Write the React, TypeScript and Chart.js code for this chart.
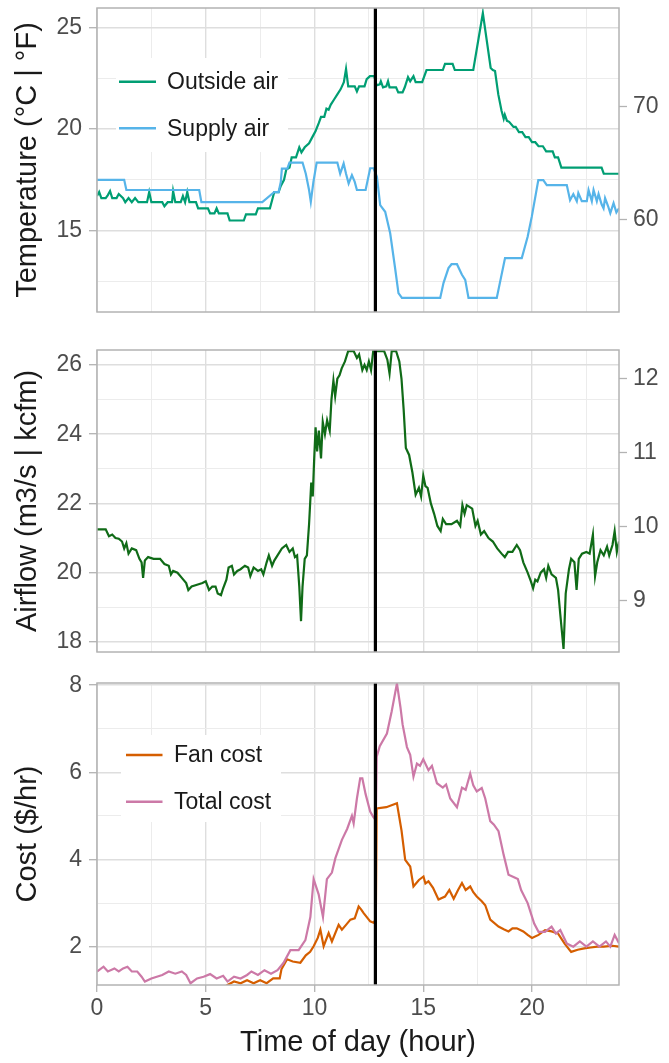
import React, { useEffect, useRef } from "react";
import { Chart, registerables } from "chart.js";

Chart.register(...registerables);

type Pt = [number, number];

// ---- shared x axis (hour of day) ----
const hourMajor = [0, 5, 10, 15, 20];
const hourMinor = [2.5, 7.5, 12.5, 17.5, 22.5];
const decisionHour = 12.8;

// ---- temperature panel ----
const tempMajorC = [15, 20, 25];
const tempMinorC = [12.5, 17.5, 22.5];
const tempTicksF = [60, 70];

const outsideAir: Pt[] = [
  [0, 16.7], [0.1, 16.9], [0.2, 16.6], [0.4, 16.6], [0.5, 16.75], [0.6, 16.95], [0.7, 16.6], [0.9, 16.6],
  [1.0, 16.8], [1.2, 16.6], [1.3, 16.4], [1.45, 16.6], [1.6, 16.4], [1.75, 16.6], [1.9, 16.4], [2.3, 16.4],
  [2.4, 16.9], [2.5, 16.4], [3.0, 16.4], [3.1, 16.2], [3.25, 16.4], [3.45, 16.4], [3.5, 16.95], [3.6, 16.4],
  [3.85, 16.4], [3.95, 16.7], [4.05, 16.4], [4.15, 16.9], [4.25, 16.4], [4.55, 16.4], [4.65, 16.1], [5.1, 16.1],
  [5.2, 15.85], [5.4, 15.85], [5.5, 16.1], [5.6, 15.85], [6.0, 15.85], [6.1, 15.5], [6.75, 15.5], [6.85, 15.8],
  [7.3, 15.8], [7.4, 16.1], [7.95, 16.1], [8.05, 16.5], [8.15, 16.9], [8.35, 16.9], [8.45, 17.2], [8.6, 17.5],
  [8.7, 18.0], [8.85, 18.1], [8.95, 18.6], [9.15, 18.6], [9.3, 19.1], [9.4, 18.85], [9.55, 19.1], [9.75, 19.3],
  [9.9, 19.6], [10.05, 19.9], [10.2, 20.3], [10.3, 20.6], [10.45, 20.6], [10.55, 21.0], [10.65, 20.95],
  [10.75, 21.2], [10.9, 21.45], [11.05, 21.7], [11.2, 21.95], [11.35, 22.3], [11.45, 22.95], [11.55, 22.1],
  [11.85, 22.1], [11.95, 21.85], [12.05, 22.1], [12.3, 22.1], [12.4, 22.45], [12.55, 22.6], [12.75, 22.6],
  [12.85, 22.15], [13.0, 22.2], [13.05, 22.35], [13.15, 22.05], [13.3, 22.1], [13.38, 22.35], [13.45, 22.05],
  [13.75, 22.05], [13.85, 21.8], [14.05, 21.8], [14.15, 22.05], [14.3, 22.55], [14.4, 22.35], [14.55, 22.6],
  [14.65, 22.3], [14.95, 22.3], [15.15, 22.9], [15.9, 22.9], [16.0, 23.2], [16.35, 23.2], [16.45, 22.9],
  [17.3, 22.9], [17.74, 25.7], [18.1, 23.0], [18.2, 22.9], [18.3, 22.85], [18.45, 21.7], [18.6, 20.9],
  [18.7, 20.5], [18.75, 20.7], [18.85, 20.4], [18.95, 20.35], [19.15, 20.1], [19.25, 20.1], [19.4, 19.85],
  [19.55, 19.85], [19.7, 19.6], [19.85, 19.6], [20.0, 19.35], [20.15, 19.35], [20.3, 19.15], [20.5, 19.15],
  [20.65, 18.9], [20.95, 18.9], [21.05, 18.6], [21.2, 18.6], [21.35, 18.1], [23.2, 18.1], [23.3, 17.8], [24.0, 17.8],
];

const supplyAir: Pt[] = [
  [0, 17.5], [1.25, 17.5], [1.35, 17.0], [4.7, 17.0], [4.8, 16.4], [7.6, 16.4], [8.15, 16.9], [8.35, 16.9],
  [8.45, 17.4], [8.5, 18.05], [8.75, 18.05], [8.85, 18.35], [9.45, 18.35], [9.6, 17.8], [9.75, 17.0],
  [9.83, 16.42], [9.95, 17.4], [10.1, 18.35], [11.05, 18.35], [11.18, 17.8], [11.34, 18.3], [11.45, 17.8],
  [11.57, 17.32], [11.72, 17.73], [11.85, 17.4], [11.95, 17.0], [12.35, 17.0], [12.56, 18.07], [12.72, 18.07],
  [12.87, 17.65], [13.02, 16.26], [13.25, 15.93], [13.48, 14.87], [13.7, 13.2], [13.86, 11.93], [14.02, 11.69],
  [15.78, 11.69], [15.93, 12.42], [16.16, 13.16], [16.3, 13.35], [16.55, 13.35], [16.78, 12.83], [16.93, 12.58],
  [17.08, 11.69], [18.38, 11.69], [18.76, 13.65], [19.53, 13.65], [19.8, 14.7], [19.99, 15.69], [20.29, 17.49],
  [20.52, 17.49], [20.68, 17.24], [21.6, 17.24], [21.75, 16.5], [21.9, 16.8], [22.06, 16.45], [22.13, 16.85],
  [22.29, 16.45], [22.52, 16.45], [22.6, 17.0], [22.75, 16.45], [22.83, 17.0], [22.98, 16.45], [23.06, 16.8],
  [23.2, 16.3], [23.29, 16.1], [23.36, 16.6], [23.5, 16.2], [23.6, 15.86], [23.75, 16.35], [23.88, 15.9], [24, 16.1],
];

// ---- airflow panel ----
const airflowMajor = [18, 20, 22, 24, 26];
const airflowMinor = [19, 21, 23, 25];
const airflowTicksKcfm = [9, 10, 11, 12];
const m3sPerKcfmTick = 2.133;

const airflow: Pt[] = [
  [0, 21.25], [0.4, 21.25], [0.55, 21.05], [0.7, 21.1], [0.85, 21.0], [1.0, 20.98], [1.15, 20.9], [1.25, 20.7],
  [1.35, 20.85], [1.45, 20.55], [1.6, 20.7], [1.8, 20.65], [1.95, 20.4], [2.05, 20.3], [2.12, 19.85], [2.2, 20.35],
  [2.35, 20.45], [2.6, 20.4], [2.9, 20.4], [3.1, 20.25], [3.3, 20.2], [3.4, 19.95], [3.5, 20.05], [3.7, 20.0],
  [3.9, 19.85], [4.1, 19.7], [4.2, 19.5], [4.35, 19.6], [4.6, 19.65], [4.85, 19.7], [5.0, 19.75], [5.15, 19.5],
  [5.3, 19.6], [5.45, 19.6], [5.55, 19.4], [5.7, 19.35], [5.8, 19.55], [5.95, 19.8], [6.05, 20.15], [6.2, 20.2],
  [6.3, 19.95], [6.45, 20.05], [6.6, 20.1], [6.8, 20.2], [6.95, 20.15], [7.05, 19.9], [7.2, 20.15], [7.4, 20.05],
  [7.55, 20.1], [7.65, 19.95], [7.8, 20.3], [7.9, 20.5], [8.05, 20.2], [8.15, 20.35], [8.3, 20.5], [8.5, 20.7],
  [8.7, 20.8], [8.85, 20.6], [9.0, 20.7], [9.1, 20.45], [9.2, 20.5], [9.3, 19.6], [9.38, 18.6], [9.45, 19.6],
  [9.55, 20.4], [9.65, 20.5], [9.75, 21.4], [9.85, 22.6], [9.92, 22.2], [9.98, 23.2], [10.05, 24.2], [10.12, 23.5],
  [10.2, 24.1], [10.3, 23.3], [10.38, 24.35], [10.48, 24.0], [10.58, 24.4], [10.7, 24.1], [10.78, 25.0],
  [10.87, 25.55], [10.95, 25.1], [11.05, 25.6], [11.15, 25.7], [11.25, 25.9], [11.4, 26.1], [11.55, 26.4],
  [11.8, 26.4], [11.95, 26.2], [12.05, 26.3], [12.2, 25.85], [12.3, 26.0], [12.4, 25.85], [12.5, 26.1],
  [12.6, 25.85], [12.7, 26.4], [13.2, 26.4], [13.35, 26.15], [13.45, 25.75], [13.55, 26.4], [13.75, 26.4],
  [13.9, 26.1], [14.0, 25.6], [14.1, 24.7], [14.2, 23.6], [14.35, 23.4], [14.5, 22.9], [14.65, 22.25],
  [14.8, 22.45], [14.9, 22.2], [15.0, 22.8], [15.1, 22.5], [15.2, 22.45], [15.35, 22.0], [15.5, 21.7],
  [15.65, 21.35], [15.8, 21.2], [15.9, 21.55], [16.05, 21.4], [16.3, 21.4], [16.55, 21.5], [16.7, 21.35],
  [16.8, 21.95], [16.9, 21.7], [17.0, 21.95], [17.25, 21.85], [17.4, 21.35], [17.5, 21.5], [17.65, 21.1],
  [17.8, 21.2], [18.0, 21.0], [18.2, 20.9], [18.4, 20.7], [18.6, 20.55], [18.75, 20.45], [18.9, 20.6],
  [19.1, 20.6], [19.3, 20.8], [19.45, 20.65], [19.6, 20.3], [19.8, 20.0], [19.95, 19.75], [20.05, 19.55],
  [20.15, 19.8], [20.25, 19.75], [20.4, 20.0], [20.55, 20.1], [20.65, 19.85], [20.75, 20.2], [20.9, 19.95],
  [21.1, 19.85], [21.2, 19.5], [21.3, 18.8], [21.45, 17.8], [21.55, 19.4], [21.7, 20.1], [21.8, 20.4],
  [21.95, 20.3], [22.05, 19.5], [22.15, 20.4], [22.3, 20.55], [22.5, 20.6], [22.65, 20.55], [22.8, 21.1],
  [22.9, 19.9], [23.0, 20.3], [23.15, 20.65], [23.3, 20.5], [23.45, 20.75], [23.55, 20.5], [23.7, 20.8],
  [23.8, 21.2], [23.9, 20.6], [24, 20.9],
];

// ---- cost panel ----
const costMajor = [2, 4, 6, 8];
const costMinor = [3, 5, 7];

const fanCost: Pt[] = [
  [5.8, 1.05], [6.0, 1.12], [6.3, 1.2], [6.6, 1.16], [6.9, 1.23], [7.2, 1.16], [7.5, 1.23], [7.8, 1.16],
  [8.1, 1.27], [8.4, 1.27], [8.48, 1.48], [8.74, 1.71], [9.0, 1.66], [9.35, 1.63], [9.6, 1.8], [9.8, 1.88],
  [9.96, 2.01], [10.15, 2.2], [10.27, 2.39], [10.42, 2.01], [10.65, 2.31], [10.8, 2.12], [11.11, 2.5],
  [11.26, 2.39], [11.45, 2.5], [11.65, 2.62], [11.85, 2.65], [12.03, 2.92], [12.15, 2.85], [12.26, 2.77],
  [12.56, 2.58], [12.71, 2.55], [12.82, 2.62], [12.86, 5.17], [13.3, 5.2], [13.79, 5.29], [14.0, 4.67],
  [14.17, 3.99], [14.4, 3.84], [14.55, 3.38], [14.8, 3.53], [15.01, 3.61], [15.1, 3.45], [15.24, 3.5],
  [15.45, 3.35], [15.7, 3.08], [16.0, 3.15], [16.2, 3.3], [16.4, 3.1], [16.6, 3.3], [16.78, 3.46], [16.95, 3.3],
  [17.16, 3.38], [17.3, 3.25], [17.46, 3.15], [17.69, 3.04], [17.85, 2.95], [18.08, 2.62], [18.46, 2.46],
  [18.7, 2.4], [18.92, 2.35], [19.1, 2.42], [19.3, 2.42], [19.6, 2.35], [19.8, 2.27], [20.0, 2.2], [20.3, 2.27],
  [20.6, 2.38], [20.9, 2.35], [21.2, 2.3], [21.5, 2.07], [21.8, 1.88], [22.1, 1.93], [22.4, 1.96], [22.7, 1.98],
  [23.0, 2.0], [23.3, 2.0], [23.7, 2.02], [24, 2.0],
];

const totalCost: Pt[] = [
  [0, 1.43], [0.3, 1.54], [0.5, 1.43], [0.8, 1.5], [1.0, 1.43], [1.2, 1.5], [1.4, 1.54], [1.6, 1.43],
  [1.85, 1.43], [2.05, 1.31], [2.2, 1.2], [2.5, 1.27], [3.0, 1.35], [3.3, 1.43], [3.6, 1.38], [3.9, 1.43],
  [4.1, 1.35], [4.3, 1.16], [4.6, 1.27], [4.9, 1.31], [5.2, 1.37], [5.5, 1.27], [5.8, 1.33], [6.0, 1.2],
  [6.3, 1.31], [6.6, 1.27], [6.9, 1.35], [7.1, 1.43], [7.4, 1.35], [7.7, 1.46], [8.0, 1.38], [8.3, 1.46],
  [8.58, 1.63], [8.89, 1.92], [9.27, 1.92], [9.58, 2.15], [9.81, 2.68], [9.96, 3.55], [10.19, 3.2],
  [10.39, 2.68], [10.57, 3.55], [10.8, 3.7], [10.96, 4.03], [11.26, 4.45], [11.5, 4.7], [11.72, 5.0],
  [11.8, 4.83], [11.95, 5.4], [12.1, 5.86], [12.2, 5.86], [12.35, 5.5], [12.56, 5.1], [12.7, 4.98],
  [12.82, 4.9], [12.86, 6.36], [13.0, 6.6], [13.33, 6.89], [13.55, 7.4], [13.79, 8.04], [13.95, 7.5],
  [14.05, 7.1], [14.25, 6.58], [14.4, 6.4], [14.55, 5.9], [14.71, 6.2], [14.85, 6.15], [15.0, 6.3],
  [15.24, 6.05], [15.4, 6.15], [15.63, 5.75], [15.9, 5.65], [16.05, 5.72], [16.24, 5.4], [16.55, 5.2],
  [16.78, 5.65], [16.95, 5.6], [17.16, 5.97], [17.3, 5.7], [17.46, 5.56], [17.69, 5.64], [17.85, 5.4],
  [18.08, 4.88], [18.25, 4.8], [18.46, 4.65], [18.7, 4.1], [18.92, 3.65], [19.15, 3.6], [19.35, 3.55],
  [19.5, 3.3], [19.8, 3.0], [20.1, 2.53], [20.3, 2.34], [20.6, 2.34], [20.9, 2.46], [21.1, 2.3], [21.3, 2.38],
  [21.6, 2.07], [21.9, 2.0], [22.2, 2.12], [22.5, 2.0], [22.8, 2.12], [23.1, 2.0], [23.4, 2.12], [23.6, 2.0],
  [23.8, 2.27], [24, 2.08],
];

// ---- styling ----
const FONT = '"Liberation Sans", Arial, Helvetica, sans-serif';
const TICK_COLOR = "#4d4d4d";
const TITLE_COLOR = "#1a1a1a";
const GRID_MAJOR = "#dedede";
const GRID_MINOR = "#ececec";
const BORDER = "#b3b3b3";
const CANVAS_W = 669;
const PLOT_LEFT = 97;
const RIGHT_AXIS_W = 50;

const colors = {
  outside: "#009E73",
  supply: "#56B4E9",
  airflow: "#106b17",
  fan: "#D55E00",
  total: "#CC79A7",
};

interface Series {
  label: string;
  color: string;
  data: Pt[];
}

interface LegendSpec {
  box: [number, number, number, number];
  lineX: [number, number];
  textX: number;
  rowsY: number[];
}

interface PanelSpec {
  top: number;
  height: number;
  plotTop: number;
  plotBottom: number;
  yMin: number;
  yMax: number;
  yMajor: number[];
  yMinor: number[];
  yTitle: string;
  right?: { values: number[]; labels: string[] };
  series: Series[];
  legend?: LegendSpec;
  showX: boolean;
}

const fToC = (f: number) => ((f - 32) * 5) / 9;

const panels: PanelSpec[] = [
  {
    top: 0,
    height: 330,
    plotTop: 8,
    plotBottom: 312,
    yMin: 11.0,
    yMax: 25.95,
    yMajor: tempMajorC,
    yMinor: tempMinorC,
    yTitle: "Temperature (°C | °F)",
    right: { values: tempTicksF.map(fToC), labels: tempTicksF.map(String) },
    series: [
      { label: "Outside air", color: colors.outside, data: outsideAir },
      { label: "Supply air", color: colors.supply, data: supplyAir },
    ],
    legend: { box: [116, 58, 172, 94], lineX: [119, 156], textX: 167, rowsY: [81.7, 128.3] },
    showX: false,
  },
  {
    top: 330,
    height: 335,
    plotTop: 20,
    plotBottom: 322,
    yMin: 17.71,
    yMax: 26.43,
    yMajor: airflowMajor,
    yMinor: airflowMinor,
    yTitle: "Airflow (m3/s | kcfm)",
    right: {
      values: airflowTicksKcfm.map((k) => k * m3sPerKcfmTick),
      labels: airflowTicksKcfm.map(String),
    },
    series: [{ label: "Airflow", color: colors.airflow, data: airflow }],
    showX: false,
  },
  {
    top: 665,
    height: 398,
    plotTop: 18,
    plotBottom: 320,
    yMin: 1.12,
    yMax: 8.05,
    yMajor: costMajor,
    yMinor: costMinor,
    yTitle: "Cost ($/hr)",
    series: [
      { label: "Fan cost", color: colors.fan, data: fanCost },
      { label: "Total cost", color: colors.total, data: totalCost },
    ],
    legend: { box: [121, 70, 160, 87], lineX: [126, 162.5], textX: 174, rowsY: [90, 136.7] },
    showX: true,
  },
];

const hourGrid = [...hourMajor, ...hourMinor].sort((a, b) => a - b);

// keep the plot area fixed: tick labels may overhang the panel edges
const noOverhang = (s: any) => {
  s.paddingTop = 0;
  s.paddingBottom = 0;
  s.paddingLeft = 0;
  s.paddingRight = 0;
};

function makeConfig(spec: PanelSpec): any {
  const isMajorX = (v: number) => hourMajor.includes(v);
  const yGrid = [...spec.yMajor, ...spec.yMinor].sort((a, b) => a - b);
  const isMajorY = (v: number) => spec.yMajor.includes(v);
  const n = spec.series.length;

  const datasets: any[] = spec.series.map((s, i) => ({
    label: s.label,
    data: s.data,
    borderColor: s.color,
    backgroundColor: s.color,
    borderWidth: 2.2,
    pointRadius: 0,
    tension: 0,
    fill: false,
    clip: 0,
    order: n - i + 1,
  }));
  datasets.push({
    label: "decision",
    data: [
      [decisionHour, spec.yMin - 1],
      [decisionHour, spec.yMax + 1],
    ],
    borderColor: "#000",
    borderWidth: 3.2,
    pointRadius: 0,
    fill: false,
    clip: 0,
    order: 0,
  });

  const scales: any = {
    x: {
      type: "linear",
      min: 0,
      max: 24,
      afterBuildTicks: (s: any) => {
        s.ticks = hourGrid.map((v) => ({ value: v }));
      },
      afterFit: (s: any) => {
        s.height = spec.height - spec.plotBottom;
        noOverhang(s);
      },
      ticks: {
        display: spec.showX,
        autoSkip: false,
        maxRotation: 0,
        padding: 3,
        color: TICK_COLOR,
        font: { family: FONT, size: 23 },
        callback: (v: number) => (isMajorX(v) ? String(v) : ""),
      },
      grid: {
        color: (c: any) => (isMajorX(c.tick?.value) ? GRID_MAJOR : GRID_MINOR),
        lineWidth: (c: any) => (isMajorX(c.tick?.value) ? 1.4 : 1),
        drawTicks: spec.showX,
        tickLength: 7,
        tickWidth: 1.3,
        tickColor: (c: any) => (isMajorX(c.tick?.value) ? BORDER : "rgba(0,0,0,0)"),
      },
      border: { display: false },
      title: spec.showX
        ? {
            display: true,
            text: "Time of day (hour)",
            color: TITLE_COLOR,
            font: { family: FONT, size: 29 },
            padding: { top: 0, bottom: 2.5 },
          }
        : { display: false },
    },
    y: {
      type: "linear",
      position: "left",
      min: spec.yMin,
      max: spec.yMax,
      afterBuildTicks: (s: any) => {
        s.ticks = yGrid.map((v) => ({ value: v }));
      },
      afterFit: (s: any) => {
        s.width = PLOT_LEFT;
        noOverhang(s);
      },
      ticks: {
        autoSkip: false,
        padding: 7,
        color: TICK_COLOR,
        font: { family: FONT, size: 23 },
        callback: (v: number) => (isMajorY(v) ? String(v) : ""),
      },
      grid: {
        color: (c: any) => (isMajorY(c.tick?.value) ? GRID_MAJOR : GRID_MINOR),
        lineWidth: (c: any) => (isMajorY(c.tick?.value) ? 1.4 : 1),
        drawTicks: true,
        tickLength: 8,
        tickWidth: 1.3,
        tickColor: (c: any) => (isMajorY(c.tick?.value) ? BORDER : "rgba(0,0,0,0)"),
      },
      border: { display: false },
      title: {
        display: true,
        text: spec.yTitle,
        color: TITLE_COLOR,
        font: { family: FONT, size: 29 },
        padding: { top: 11, bottom: 0 },
      },
    },
  };

  if (spec.right) {
    const r = spec.right;
    scales.y2 = {
      type: "linear",
      position: "right",
      min: spec.yMin,
      max: spec.yMax,
      afterBuildTicks: (s: any) => {
        s.ticks = r.values.map((v) => ({ value: v }));
      },
      afterFit: (s: any) => {
        s.width = RIGHT_AXIS_W;
        noOverhang(s);
      },
      ticks: {
        autoSkip: false,
        padding: 6,
        color: TICK_COLOR,
        font: { family: FONT, size: 23 },
        callback: (_v: number, i: number) => r.labels[i],
      },
      grid: {
        drawOnChartArea: false,
        drawTicks: true,
        tickLength: 8,
        tickWidth: 1.3,
        tickColor: BORDER,
      },
      border: { display: false },
    };
  }

  const frame = {
    id: "panelFrame",
    afterDatasetsDraw(chart: any) {
      const { ctx, chartArea: a } = chart;
      ctx.save();
      ctx.strokeStyle = BORDER;
      ctx.lineWidth = 1.5;
      ctx.strokeRect(a.left, a.top, a.right - a.left, a.bottom - a.top);
      ctx.restore();
    },
  };

  const insetLegend = {
    id: "insetLegend",
    afterDraw(chart: any) {
      const lg = spec.legend;
      if (!lg) return;
      const ctx = chart.ctx;
      ctx.save();
      ctx.fillStyle = "#ffffff";
      ctx.fillRect(lg.box[0], lg.box[1], lg.box[2], lg.box[3]);
      spec.series.forEach((s, i) => {
        const y = lg.rowsY[i];
        ctx.strokeStyle = s.color;
        ctx.lineWidth = 2.6;
        ctx.beginPath();
        ctx.moveTo(lg.lineX[0], y);
        ctx.lineTo(lg.lineX[1], y);
        ctx.stroke();
        ctx.fillStyle = TITLE_COLOR;
        ctx.font = `23px ${FONT}`;
        ctx.textBaseline = "middle";
        ctx.textAlign = "left";
        ctx.fillText(s.label, lg.textX, y + 1);
      });
      ctx.restore();
    },
  };

  return {
    type: "line",
    data: { datasets },
    options: {
      responsive: false,
      maintainAspectRatio: false,
      animation: false,
      layout: {
        padding: { top: spec.plotTop, left: 0, right: spec.right ? 0 : RIGHT_AXIS_W, bottom: 0 },
      },
      plugins: { legend: { display: false }, tooltip: { enabled: false } },
      scales,
    },
    plugins: [frame, insetLegend],
  };
}

function Panel({ spec }: { spec: PanelSpec }) {
  const ref = useRef<HTMLCanvasElement | null>(null);
  useEffect(() => {
    if (!ref.current) return;
    const chart = new Chart(ref.current, makeConfig(spec));
    return () => chart.destroy();
  }, [spec]);
  return (
    <canvas
      ref={ref}
      width={CANVAS_W}
      height={spec.height}
      style={{ position: "absolute", left: 0, top: spec.top, width: CANVAS_W, height: spec.height }}
    />
  );
}

export default function App() {
  return (
    <div
      style={{
        position: "fixed",
        left: 0,
        top: 0,
        width: CANVAS_W,
        height: 1063,
        background: "#ffffff",
        overflow: "hidden",
      }}
    >
      {panels.map((p, i) => (
        <Panel key={i} spec={p} />
      ))}
    </div>
  );
}
